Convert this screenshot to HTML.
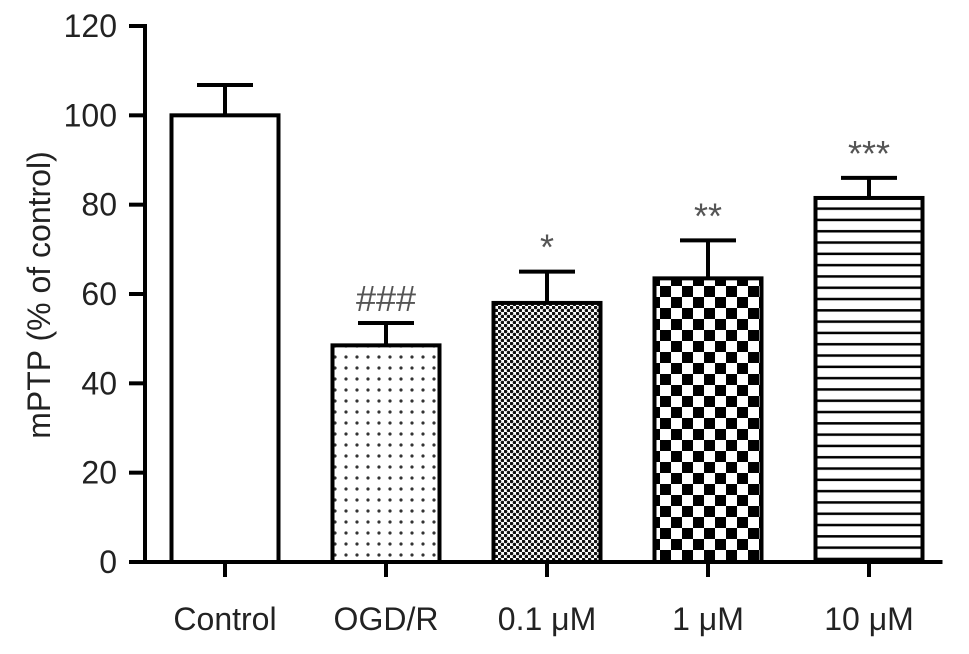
<!DOCTYPE html>
<html><head><meta charset="utf-8"><style>
body{margin:0;background:#fff}
svg text{font-family:"Liberation Sans",Arial,sans-serif}
</style></head><body>
<svg id="chart" width="969" height="649" viewBox="0 0 969 649" xmlns="http://www.w3.org/2000/svg">
<defs>
<pattern id="p-dots" patternUnits="userSpaceOnUse" width="11" height="11"><circle cx="5" cy="5" r="1.6" fill="#333"/></pattern>
<pattern id="p-dense" patternUnits="userSpaceOnUse" width="6" height="6"><rect width="6" height="6" fill="#fff"/><circle cx="1.5" cy="1.5" r="1.8" fill="#111"/><circle cx="4.5" cy="4.5" r="1.8" fill="#111"/></pattern>
<pattern id="p-check" patternUnits="userSpaceOnUse" width="22" height="22"><rect width="22" height="22" fill="#fff"/><rect width="11" height="11" fill="#000"/><rect x="11" y="11" width="11" height="11" fill="#000"/></pattern>
<pattern id="p-lines" patternUnits="userSpaceOnUse" width="10" height="11.3"><rect width="10" height="11.3" fill="#fff"/><rect y="4" width="10" height="2.5" fill="#000"/></pattern>
</defs>
<g id="plot"></g>
<text transform="translate(50,295) rotate(-90)" text-anchor="middle" font-size="32" fill="#222">mPTP (% of control)</text>
</svg>
<script>
const categories=["Control","OGD/R","0.1 μM","1 μM","10 μM"];
const values=[100,48.5,58,63.5,81.5];
const errors=[6.8,5,7,8.5,4.5];
const marks=["","###","*","**","***"];
const yTicks=[0,20,40,60,80,100,120];
const fills=["#fff","url(#p-dots)","url(#p-dense)","url(#p-check)","url(#p-lines)"];
const NS="http://www.w3.org/2000/svg";
const g=document.getElementById('plot');
const y0=562,y1=26,yMax=120;
const y=v=>y0-(v/yMax)*(y0-y1);
const x=i=>225+i*161;
const bw=107,axX=145;
function mk(t,a,p){const e=document.createElementNS(NS,t);for(const k in a)e.setAttribute(k,a[k]);(p||g).appendChild(e);return e;}
values.forEach((v,i)=>{
 const cx=x(i),top=y(v),et=y(v+errors[i]);
 const eb=mk('line',{x1:cx,x2:cx,y1:top,y2:et,stroke:'#000','stroke-width':4});
 
 
 const cap=mk('line',{x1:cx-28,x2:cx+28,y1:et,y2:et,stroke:'#000','stroke-width':4});
 
 
 const r=mk('rect',{x:cx-bw/2,y:top,width:bw,height:y0-top,fill:fills[i],stroke:'#000','stroke-width':4});
 
 
 if(marks[i]){const t=mk('text',{x:cx,y:et-12,'text-anchor':'middle','font-size':36,fill:'#555','font-family':'Liberation Serif, serif'});t.textContent=marks[i];
 
 }
 const tk=mk('line',{x1:cx,x2:cx,y1:y0,y2:y0+15,stroke:'#000','stroke-width':4});
 
 
 const lb=mk('text',{x:cx,y:630,'text-anchor':'middle','font-size':32,fill:'#222'});lb.textContent=categories[i];
 
 
});
const ya=mk('line',{x1:axX,x2:axX,y1:y1-2,y2:y0+2,stroke:'#000','stroke-width':4});


const xa=mk('line',{x1:axX-2,x2:x(4)+bw/2+20,y1:y0,y2:y0,stroke:'#000','stroke-width':4});


yTicks.forEach(v=>{
 const l=mk('line',{x1:129,x2:axX,y1:y(v),y2:y(v),stroke:'#000','stroke-width':4});
 
 
 const t=mk('text',{x:117,y:y(v)+11,'text-anchor':'end','font-size':32,fill:'#222'});t.textContent=v;
 
 
});
</script>
</body></html>
